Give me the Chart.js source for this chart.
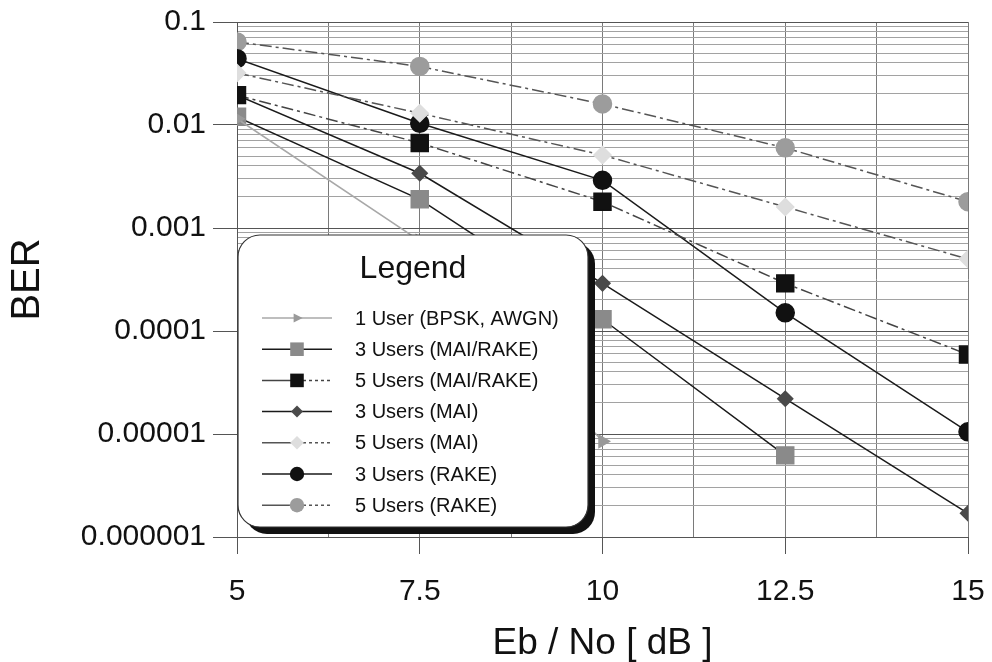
<!DOCTYPE html>
<html>
<head>
<meta charset="utf-8">
<title>BER vs Eb/No</title>
<script src="https://cdn.jsdelivr.net/npm/chart.js@4.4.0/dist/chart.umd.min.js"></script>
<style>
  html, body { margin: 0; padding: 0; background: #fff; }
  canvas { display: block; }
</style>
</head>
<body>
<canvas id="berChart" width="992" height="662"></canvas>
<script>
// Eb/No values (dB)
const ebno = [5, 7.5, 10, 12.5, 15];

// BER
const user1Awgn   = [0.0115, 0.00075, 0.0000085];
const users3MaiRake = [0.012, 0.0019, 0.00013, 0.0000062];
const users5MaiRake = [0.0195, 0.0067, 0.0018, 0.00029, 0.000059];
const users3Mai   = [0.0195, 0.0034, 0.00029, 0.000022, 0.0000017];
const users5Mai   = [0.032, 0.013, 0.0051, 0.0016, 0.0005];
const users3Rake  = [0.044, 0.0104, 0.0029, 0.00015, 0.0000105];
const users5Rake  = [0.064, 0.037, 0.016, 0.006, 0.0018];

const seriesNames = [
    '1 User (BPSK, AWGN)',
    '3 Users (MAI/RAKE)',
    '5 Users (MAI/RAKE)',
    '3 Users (MAI)',
    '5 Users (MAI)',
    '3 Users (RAKE)',
    '5 Users (RAKE)'
];

const xTickValues = [5, 7.5, 10, 12.5, 15];
const xTickLabels = ['5', '7.5', '10', '12.5', '15'];
const yDecades = [-6, -5, -4, -3, -2, -1];
const yTickLabels = ['0.000001', '0.00001', '0.0001', '0.001', '0.01', '0.1'];

const FONT = '"Liberation Sans", Arial, sans-serif';
const DASHDOT = [12, 4, 3, 4];

function pts(values) {
    return values.map(function(v, i) { return {x: ebno[i], y: v}; });
}

function isDecade(v) {
    const l = Math.log10(v);
    return Math.abs(l - Math.round(l)) < 1e-9;
}

const datasets = [
    { label: seriesNames[0], data: pts(user1Awgn), borderColor: '#a8a8a8', borderWidth: 1.5,
      pointStyle: 'triangle', rotation: 90, pointRadius: 7, pointBackgroundColor: '#9a9a9a', pointBorderColor: '#9a9a9a' },
    { label: seriesNames[1], data: pts(users3MaiRake), borderColor: '#1a1a1a', borderWidth: 1.5,
      pointStyle: 'rect', pointRadius: 12, pointBackgroundColor: '#8a8a8a', pointBorderColor: '#8a8a8a' },
    { label: seriesNames[2], data: pts(users5MaiRake), borderColor: '#444', borderWidth: 1.5, borderDash: DASHDOT,
      pointStyle: 'rect', pointRadius: 12, pointBackgroundColor: '#111', pointBorderColor: '#111' },
    { label: seriesNames[3], data: pts(users3Mai), borderColor: '#1a1a1a', borderWidth: 1.5,
      pointStyle: 'rectRot', pointRadius: 7.5, pointBackgroundColor: '#4a4a4a', pointBorderColor: '#4a4a4a' },
    { label: seriesNames[4], data: pts(users5Mai), borderColor: '#555', borderWidth: 1.5, borderDash: DASHDOT,
      pointStyle: 'rectRot', pointRadius: 8.5, pointBackgroundColor: '#dedede', pointBorderColor: '#dedede' },
    { label: seriesNames[5], data: pts(users3Rake), borderColor: '#1a1a1a', borderWidth: 1.5,
      pointStyle: 'circle', pointRadius: 9, pointBackgroundColor: '#111', pointBorderColor: '#111' },
    { label: seriesNames[6], data: pts(users5Rake), borderColor: '#555', borderWidth: 1.5, borderDash: DASHDOT,
      pointStyle: 'circle', pointRadius: 9, pointBackgroundColor: '#9c9c9c', pointBorderColor: '#9c9c9c' }
];

function marker(ctx, ds, x, y, r) {
    ctx.save();
    ctx.fillStyle = ds.pointBackgroundColor;
    ctx.beginPath();
    if (ds.pointStyle === 'rect') {
        const s = r * Math.SQRT1_2;
        ctx.rect(x - s, y - s, 2 * s, 2 * s);
    } else if (ds.pointStyle === 'rectRot') {
        ctx.moveTo(x, y - r); ctx.lineTo(x + r, y); ctx.lineTo(x, y + r); ctx.lineTo(x - r, y);
        ctx.closePath();
    } else if (ds.pointStyle === 'triangle') {
        ctx.moveTo(x + r, y); ctx.lineTo(x - r * 0.6, y - r * 0.8); ctx.lineTo(x - r * 0.6, y + r * 0.8);
        ctx.closePath();
    } else {
        ctx.arc(x, y, r, 0, Math.PI * 2);
    }
    ctx.fill();
    ctx.restore();
}

function roundRect(ctx, x, y, w, h, r) {
    ctx.beginPath();
    ctx.moveTo(x + r, y);
    ctx.lineTo(x + w - r, y);
    ctx.arcTo(x + w, y, x + w, y + r, r);
    ctx.lineTo(x + w, y + h - r);
    ctx.arcTo(x + w, y + h, x + w - r, y + h, r);
    ctx.lineTo(x + r, y + h);
    ctx.arcTo(x, y + h, x, y + h - r, r);
    ctx.lineTo(x, y + r);
    ctx.arcTo(x, y, x + r, y, r);
    ctx.closePath();
}

// legend box drawn over the plot like the original
const boxLegend = {
    id: 'boxLegend',
    afterDraw: function(chart) {
        const ctx = chart.ctx;
        const bx = 238, by = 235, bw = 350, bh = 292;
        ctx.save();
        ctx.fillStyle = '#111';
        roundRect(ctx, bx + 7, by + 7, bw, bh, 22);
        ctx.fill();
        ctx.fillStyle = '#fff';
        roundRect(ctx, bx, by, bw, bh, 22);
        ctx.fill();
        ctx.strokeStyle = '#333';
        ctx.lineWidth = 1.2;
        ctx.stroke();

        ctx.fillStyle = '#111';
        ctx.font = '32px ' + FONT;
        ctx.textAlign = 'center';
        ctx.textBaseline = 'middle';
        ctx.fillText('Legend', bx + bw / 2, by + 34);

        ctx.font = '20px ' + FONT;
        ctx.textAlign = 'left';
        chart.data.datasets.forEach(function(ds, i) {
            const y = by + 83 + i * 31.2;
            const x0 = bx + 24, xm = bx + 59, x1 = bx + 94;
            ctx.strokeStyle = ds.borderColor;
            ctx.lineWidth = 1.5;
            ctx.setLineDash([]);
            ctx.beginPath(); ctx.moveTo(x0, y); ctx.lineTo(xm, y); ctx.stroke();
            ctx.setLineDash(ds.borderDash ? [3, 3] : []);
            ctx.beginPath(); ctx.moveTo(xm, y); ctx.lineTo(x1, y); ctx.stroke();
            ctx.setLineDash([]);
            marker(ctx, ds, xm, y, ds.pointRadius * 0.8);
            ctx.fillStyle = '#111';
            ctx.fillText(ds.label, bx + 117, y + 1);
        });
        ctx.restore();
    }
};

const ctx = document.getElementById('berChart').getContext('2d');
new Chart(ctx, {
    type: 'line',
    data: { datasets: datasets },
    options: {
        responsive: false,
        animation: false,
        devicePixelRatio: 1,
        layout: { padding: { top: 22, right: 24, left: 0, bottom: 0 } },
        elements: { line: { tension: 0 }, point: { borderWidth: 1 } },
        plugins: { legend: { display: false }, tooltip: { enabled: false } },
        scales: {
            x: {
                type: 'linear',
                min: 5,
                max: 15,
                afterFit: function(s) { s.height = 125; s.paddingLeft = 0; s.paddingRight = 0; },
                ticks: {
                    stepSize: 1.25,
                    autoSkip: false,
                    maxRotation: 0,
                    padding: 20,
                    color: '#111',
                    font: { family: FONT, size: 30 },
                    callback: function(v) {
                        const k = xTickValues.indexOf(v);
                        return k >= 0 ? xTickLabels[k] : '';
                    }
                },
                grid: {
                    color: '#7a7a7a',
                    lineWidth: 1,
                    tickLength: 17,
                    tickColor: function(c) {
                        return xTickValues.indexOf(c.tick && c.tick.value) >= 0 ? '#555' : 'rgba(0,0,0,0)';
                    }
                },
                border: { color: '#555' },
                title: {
                    display: true,
                    text: 'Eb / No [ dB ]',
                    color: '#111',
                    font: { family: FONT, size: 37 },
                    padding: { top: 0, bottom: -4 }
                }
            },
            y: {
                type: 'logarithmic',
                min: 0.000001,
                max: 0.1,
                afterFit: function(s) { s.width = 237; s.paddingTop = 0; s.paddingBottom = 0; },
                afterBuildTicks: function(s) {
                    const t = [];
                    yDecades.forEach(function(e) {
                        const n = e === -1 ? 1 : 9;
                        for (let m = 1; m <= n; m++) {
                            t.push({ value: Number((m * Math.pow(10, e)).toPrecision(3)) });
                        }
                    });
                    s.ticks = t;
                },
                ticks: {
                    autoSkip: false,
                    padding: 7,
                    color: '#111',
                    font: { family: FONT, size: 30 },
                    callback: function(v) {
                        if (!isDecade(v)) return '';
                        const k = yDecades.indexOf(Math.round(Math.log10(v)));
                        return k >= 0 ? yTickLabels[k] : '';
                    }
                },
                grid: {
                    lineWidth: 1,
                    tickLength: 24,
                    color: function(c) {
                        return c.tick && isDecade(c.tick.value) ? '#555' : '#a2a2a2';
                    },
                    tickColor: function(c) {
                        return c.tick && isDecade(c.tick.value) ? '#555' : 'rgba(0,0,0,0)';
                    }
                },
                border: { color: '#555' },
                title: {
                    display: true,
                    text: 'BER',
                    color: '#111',
                    font: { family: FONT, size: 40 },
                    padding: { top: 4, bottom: 0 }
                }
            }
        }
    },
    plugins: [boxLegend]
});
</script>
</body>
</html>
